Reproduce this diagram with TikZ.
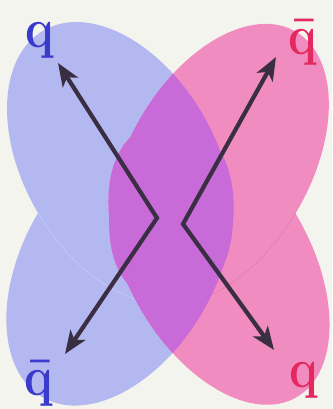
\documentclass[tikz,border=0pt]{standalone}
\usetikzlibrary{arrows.meta}
\definecolor{bgc}{RGB}{244,244,238}
\definecolor{bluefill}{RGB}{180,184,240}
\definecolor{pinkfill}{RGB}{240,140,192}
\definecolor{purplefill}{RGB}{200,106,216}
\definecolor{bluetext}{RGB}{58,58,205}
\definecolor{pinktext}{RGB}{228,40,96}
\definecolor{arrowc}{RGB}{58,46,66}
\definecolor{bluefaint}{RGB}{192,196,244}
\definecolor{pinkfaint}{RGB}{232,126,182}
\begin{document}
\begin{tikzpicture}[x=1pt,y=-1pt,
  lbl/.style={inner sep=0pt, anchor=base, xscale=0.86, transform shape,
    font=\fontsize{56}{60}\selectfont\bfseries},
  quark/.style={line width=4.2pt, draw=arrowc, line join=miter,
    {Stealth[length=23pt,width=18pt,inset=6pt]}-{Stealth[length=23pt,width=18pt,inset=6pt]}},
  faint/.style={line width=1pt}
]
\fill[bgc] (0,0) rectangle (332,409);
\useasboundingbox (0,0) rectangle (332,409);
% blue lobes
\fill[bluefill] (120,163) ellipse [x radius=153pt, y radius=96pt, rotate=-60];
\fill[bluefill] (120,263) ellipse [x radius=155pt, y radius=96pt, rotate=60];
\begin{scope}
  \clip (120,263) ellipse [x radius=155pt, y radius=96pt, rotate=60];
  \draw[faint, bluefaint] (120,163) ellipse [x radius=153pt, y radius=96pt, rotate=-60];
\end{scope}
% pink lobes
\fill[pinkfill] (219,164) ellipse [x radius=153pt, y radius=91pt, rotate=60];
\fill[pinkfill] (219,263) ellipse [x radius=155pt, y radius=91pt, rotate=-60];
\begin{scope}
  \clip (219,263) ellipse [x radius=155pt, y radius=91pt, rotate=-60];
  \draw[faint, pinkfaint] (219,164) ellipse [x radius=153pt, y radius=91pt, rotate=60];
\end{scope}
% overlap
\begin{scope}
  \clip (120,163) ellipse [x radius=153pt, y radius=96pt, rotate=-60]
        (120,263) ellipse [x radius=155pt, y radius=96pt, rotate=60];
  \fill[purplefill] (219,164) ellipse [x radius=153pt, y radius=91pt, rotate=60]
        (219,263) ellipse [x radius=155pt, y radius=91pt, rotate=-60];
\end{scope}
% arrows
\coordinate (qTL) at (58,63);
\coordinate (vL) at (157,218);
\coordinate (qbBL) at (65,354);
\coordinate (qbTR) at (276,57);
\coordinate (vR) at (183,224);
\coordinate (qBR) at (274,350);
\draw[quark] (qTL) -- (vL) -- (qbBL);
\draw[quark] (qbTR) -- (vR) -- (qBR);
% labels
\node[lbl, text=bluetext] (lq1) at (40,48) {q};
\node[lbl, text=pinktext] (lqb1) at (303,55) {\=q};
\node[lbl, text=bluetext] (lqb2) at (39,395) {\=q};
\node[lbl, text=pinktext] (lq2) at (304,387) {q};
\end{tikzpicture}
\end{document}
